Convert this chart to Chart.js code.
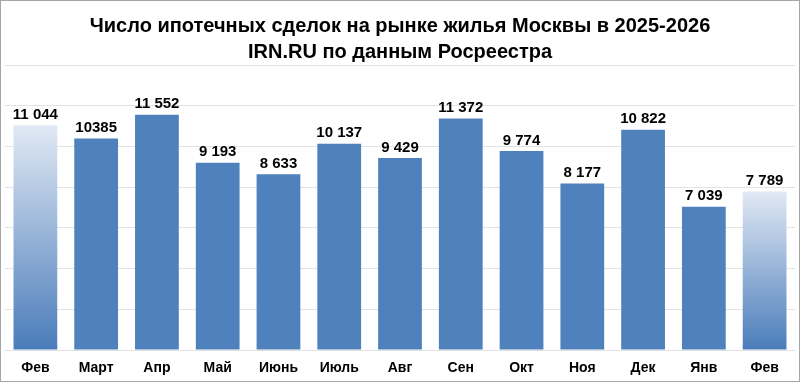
<!DOCTYPE html>
<html>
<head>
<meta charset="utf-8">
<script src="https://cdn.jsdelivr.net/npm/chart.js@4"></script>
<style>
  html, body { margin: 0; padding: 0; background: #fff; }
  #wrap { width: 800px; height: 382px; box-sizing: border-box; border: 1px solid #a6a6a6; }
</style>
</head>
<body>
<div id="wrap"><canvas id="barChart" width="798" height="380"></canvas></div>
<script>
var months = ['Фев', 'Март', 'Апр', 'Май', 'Июнь', 'Июль', 'Авг', 'Сен', 'Окт', 'Ноя', 'Дек', 'Янв', 'Фев'];
var deals = [11044, 10385, 11552, 9193, 8633, 10137, 9429, 11372, 9774, 8177, 10822, 7039, 7789];
var dealLabels = ['11 044', '10385', '11 552', '9 193', '8 633', '10 137', '9 429', '11 372', '9 774', '8 177', '10 822', '7 039', '7 789'];
var fadedBars = [0, 12];

var blue = '#4f81bd';

function barColor(c) {
    var chart = c.chart;
    if (fadedBars.indexOf(c.dataIndex) < 0) return blue;
    var y = chart.scales && chart.scales.y;
    if (!y || !chart.chartArea) return blue;
    var top = y.getPixelForValue(deals[c.dataIndex]);
    var bottom = y.getPixelForValue(0);
    var g = chart.ctx.createLinearGradient(0, top, 0, bottom);
    g.addColorStop(0, '#e1e9f4');
    g.addColorStop(1, '#4a7cba');
    return g;
}

// value labels above the bars
var valueLabels = {
    id: 'valueLabels',
    afterDatasetsDraw: function(chart) {
        var ctx = chart.ctx;
        var meta = chart.getDatasetMeta(0);
        ctx.save();
        ctx.fillStyle = '#000';
        ctx.font = "bold 15px 'Liberation Sans', Arial, sans-serif";
        ctx.textAlign = 'center';
        ctx.textBaseline = 'bottom';
        meta.data.forEach(function(bar, i) {
            ctx.fillText(dealLabels[i], bar.x, bar.y - 3);
        });
        ctx.restore();
    }
};

var ctx = document.getElementById('barChart').getContext('2d');
var barChart = new Chart(ctx, {
    type: 'bar',
    data: {
        labels: months,
        datasets: [{
            data: deals,
            backgroundColor: barColor,
            borderWidth: 0,
            categoryPercentage: 0.72,
            barPercentage: 1
        }]
    },
    options: {
        responsive: false,
        animation: false,
        layout: { padding: { left: 4, right: 4, top: 0, bottom: 0 } },
        plugins: {
            legend: { display: false },
            tooltip: { enabled: false },
            title: {
                display: true,
                text: ['Число ипотечных сделок на рынке жилья Москвы в 2025-2026', 'IRN.RU по данным Росреестра'],
                color: '#000',
                font: { family: "'Liberation Sans', Arial, sans-serif", size: 20, weight: 'bold', lineHeight: 1.3 },
                padding: { top: 12, bottom: 0 }
            }
        },
        scales: {
            x: {
                grid: { display: false, drawTicks: false },
                border: { display: false },
                afterFit: function(scale) { scale.height = 31; },
                ticks: {
                    color: '#000',
                    padding: 10,
                    font: { family: "'Liberation Sans', Arial, sans-serif", size: 14, weight: 'bold' }
                }
            },
            y: {
                min: 0,
                max: 14000,
                ticks: { display: false, stepSize: 2000 },
                grid: { color: '#e3e3e3', drawTicks: false },
                border: { display: false }
            }
        }
    },
    plugins: [valueLabels]
});
</script>
</body>
</html>
